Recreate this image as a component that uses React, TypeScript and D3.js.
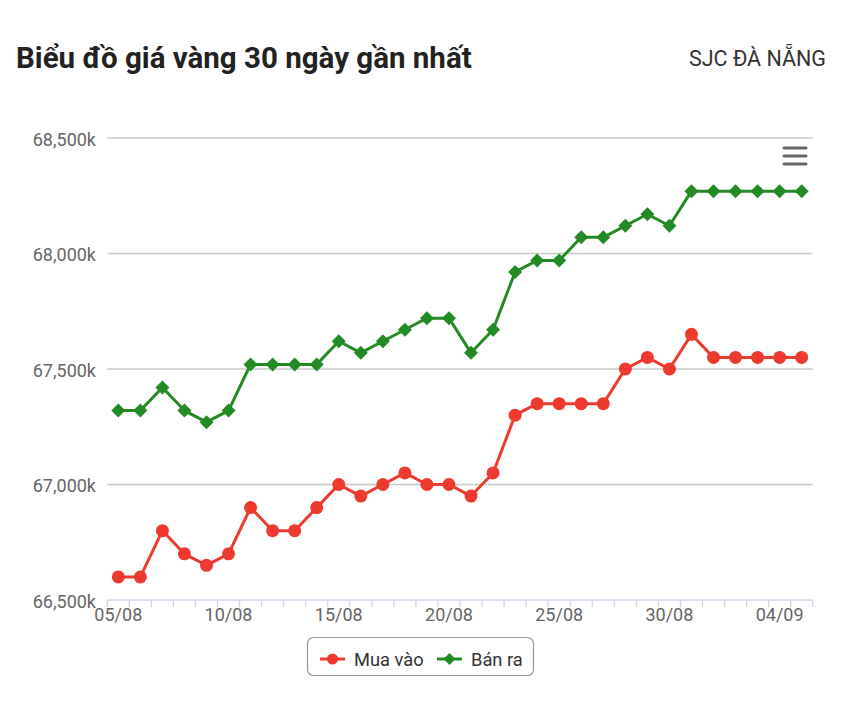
import React from 'react'
import { scaleBand, scaleLinear, line } from 'd3'

const dates = [
  '05/08', '06/08', '07/08', '08/08', '09/08', '10/08', '11/08', '12/08',
  '13/08', '14/08', '15/08', '16/08', '17/08', '18/08', '19/08', '20/08',
  '21/08', '22/08', '23/08', '24/08', '25/08', '26/08', '27/08', '28/08',
  '29/08', '30/08', '31/08', '01/09', '02/09', '03/09', '04/09', '05/09',
]
const muaVao = [
  66600, 66600, 66800, 66700, 66650, 66700, 66900, 66800,
  66800, 66900, 67000, 66950, 67000, 67050, 67000, 67000,
  66950, 67050, 67300, 67350, 67350, 67350, 67350, 67500,
  67550, 67500, 67650, 67550, 67550, 67550, 67550, 67550,
]
const banRa = [
  67320, 67320, 67420, 67320, 67270, 67320, 67520, 67520,
  67520, 67520, 67620, 67570, 67620, 67670, 67720, 67720,
  67570, 67670, 67920, 67970, 67970, 68070, 68070, 68120,
  68170, 68120, 68270, 68270, 68270, 68270, 68270, 68270,
]
const yTicks = [66500, 67000, 67500, 68000, 68500]
const labelEvery = 5

const RED = '#ee3a2e'
const GREEN = '#238b23'
const font = 'Roboto, "Noto Sans", sans-serif'

// square diamond, same width and height
const diamondPath = (r: number) => `M0,${-r}L${r},0L0,${r}L${-r},0Z`

const App = () => {
  const width = 842
  const height = 701
  const left = 107.3
  const right = 812.7
  const top = 138
  const bottom = 600

  const x = scaleBand<string>().domain(dates).range([left, right])
  const y = scaleLinear().domain([66500, 68500]).range([bottom, top])
  const cx = (d: string) => (x(d) as number) + x.bandwidth() / 2

  const mkLine = line<number>()
    .x((_, i) => cx(dates[i]))
    .y(v => y(v))

  const fmt = (v: number) => v.toLocaleString('en-US') + 'k'

  return (
    <div style={{ position: 'fixed', left: 0, top: 0 }}>
      <svg width={width} height={height} style={{ display: 'block', fontFamily: font }}>
        <rect width={width} height={height} fill="#fff" />
        <text x={16} y={68} fontSize={29.5} fontWeight={700} fill="#222">
          Biểu đồ giá vàng 30 ngày gần nhất
        </text>
        <text x={826} y={66} fontSize={21.5} fill="#333" textAnchor="end">
          SJC ĐÀ NẴNG
        </text>

        {yTicks.map(t => (
          <g key={t}>
            {t !== 66500 && (
              <line x1={left} x2={right} y1={y(t)} y2={y(t)} stroke="#c8c8c8" strokeWidth={1.3} />
            )}
            <text x={96} y={y(t) + 7.5} fontSize={18} fill="#666" textAnchor="end">
              {fmt(t)}
            </text>
          </g>
        ))}

        <line x1={left} x2={right} y1={bottom} y2={bottom} stroke="#ccd6eb" strokeWidth={1.5} />
        {dates.concat(['']).map((d, i) => {
          const tx = left + i * x.step()
          return <line key={i} x1={tx} x2={tx} y1={bottom} y2={bottom + 7} stroke="#ccd6eb" strokeWidth={1.3} />
        })}
        {dates.map((d, i) =>
          i % labelEvery === 0 ? (
            <text key={d} x={cx(d)} y={621} fontSize={18} fill="#666" textAnchor="middle">
              {d}
            </text>
          ) : null
        )}

        <path d={mkLine(banRa) || ''} fill="none" stroke={GREEN} strokeWidth={3} strokeLinejoin="round" />
        {banRa.map((v, i) => (
          <path key={i} d={diamondPath(7)} transform={`translate(${cx(dates[i])},${y(v)})`} fill={GREEN} />
        ))}

        <path d={mkLine(muaVao) || ''} fill="none" stroke={RED} strokeWidth={3} strokeLinejoin="round" />
        {muaVao.map((v, i) => (
          <circle key={i} cx={cx(dates[i])} cy={y(v)} r={6.5} fill={RED} />
        ))}

        <g stroke="#666" strokeWidth={3} strokeLinecap="round">
          <line x1={784} x2={806} y1={148} y2={148} />
          <line x1={784} x2={806} y1={156} y2={156} />
          <line x1={784} x2={806} y1={164} y2={164} />
        </g>

        <rect x={307.5} y={637.5} width={226} height={38} rx={6} fill="#fff" stroke="#999" strokeWidth={1.2} />
        <line x1={320} x2={345} y1={659} y2={659} stroke={RED} strokeWidth={3} />
        <circle cx={332.5} cy={659} r={5.5} fill={RED} />
        <text x={354} y={665.5} fontSize={18.3} fill="#333">Mua vào</text>
        <line x1={437} x2={462} y1={659} y2={659} stroke={GREEN} strokeWidth={3} />
        <path d={diamondPath(6)} transform="translate(449.5,659)" fill={GREEN} />
        <text x={471} y={665.5} fontSize={18.3} fill="#333">Bán ra</text>
      </svg>
    </div>
  )
}

export default App
